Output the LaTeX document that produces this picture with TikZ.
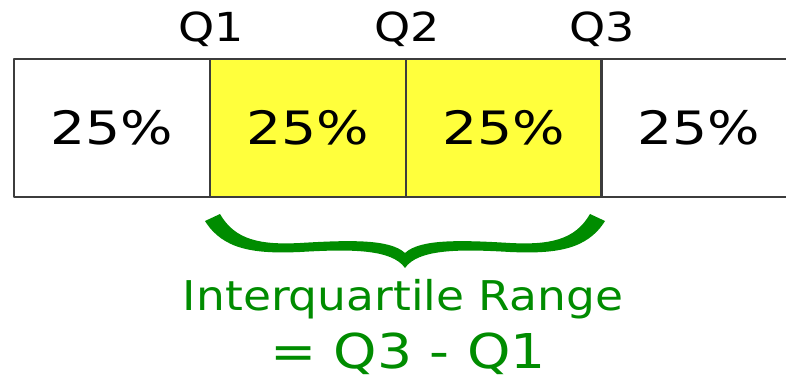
\documentclass[tikz,border=0pt]{standalone}
\usepackage{fontspec}
\setmainfont{DejaVu Sans}
\definecolor{irgreen}{RGB}{0,140,0}
\definecolor{cellline}{RGB}{60,60,60}
\definecolor{cellyellow}{RGB}{255,255,60}
% widen the letters a little (the original face runs wider)
\newcommand{\widetext}[2][1.15]{\scalebox{#1}[1]{#2}}
\begin{document}
\begin{tikzpicture}[x=1pt,y=-1pt,line cap=round,line join=round,
  cell/.style={draw=cellline,line width=2pt,minimum width=196pt,minimum height=138pt,
    inner sep=0pt,font=\fontsize{46}{50}\selectfont},
  qlabel/.style={anchor=base,font=\fontsize{40}{44}\selectfont}]
  \useasboundingbox (0,0) rectangle (786,379);

  % quartile cells
  \node[cell] (c1) at (112,128) {\widetext[1.2]{25\%}};
  \node[cell,fill=cellyellow] (c2) at (308,128) {\widetext[1.2]{25\%}};
  \node[cell,fill=cellyellow] (c3) at (503.5,128) {\widetext[1.2]{25\%}};
  \node[cell] (c4) at (699,128) {\widetext[1.2]{25\%}};

  % quartile labels
  \node[qlabel] (q1) at (c1.north east |- 0,42) {\widetext{Q1}};
  \node[qlabel] (q2) at (c2.north east |- 0,42) {\widetext{Q2}};
  \node[qlabel] (q3) at (c3.north east |- 0,42) {\widetext{Q3}};

  % brace
  \fill[irgreen] (205,221) .. controls (223,250) and (255,254) .. (300,252)
    .. controls (350,249) and (392,249) .. (405,268)
    .. controls (418,249) and (460,249) .. (510,252)
    .. controls (555,254) and (587,250) .. (605,221)
    -- (590,214)
    .. controls (575,240) and (550,245) .. (510,243)
    .. controls (460,240) and (420,239) .. (405,253)
    .. controls (390,239) and (350,240) .. (300,243)
    .. controls (260,245) and (235,240) .. (220,214) -- cycle;

  % range text
  \node[anchor=base,text=irgreen,font=\fontsize{41}{45}\selectfont] (iqr) at (403,310) {\widetext[1.11]{Interquartile Range}};
  \node[anchor=base,text=irgreen,font=\fontsize{48}{52}\selectfont] (eq) at (408,368) {\widetext{= Q3 - Q1}};
\end{tikzpicture}
\end{document}
